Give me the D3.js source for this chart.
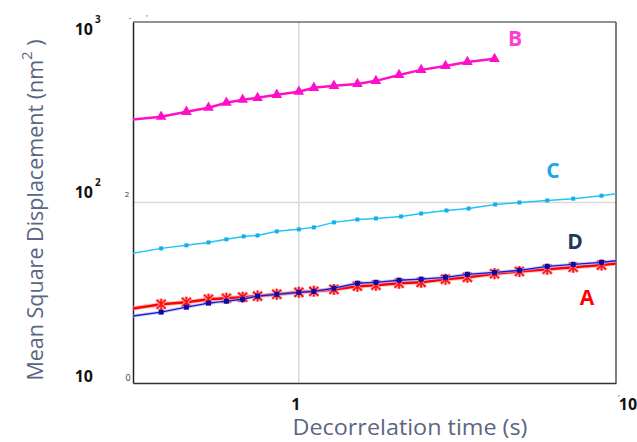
<!DOCTYPE html>
<html><head><meta charset="utf-8">
<script src="https://cdn.jsdelivr.net/npm/d3@7"></script>
<style>
html,body{margin:0;padding:0;background:#fff;}
svg{display:block;}
</style></head>
<body><svg id="chart" width="637" height="442"></svg>
<script>
// ---- data ----
const timeB = [0.30,0.368,0.442,0.519,0.591,0.665,0.741,0.852,1.0,1.115,1.29,1.53,1.75,2.07,2.43,2.90,3.40,4.14];
const valB  = [288,299,318,335,357,371,380,395,411,432,443,454,472,509,543,571,601,625];

const timeC = [0.30,0.368,0.442,0.519,0.591,0.670,0.741,0.852,1.0,1.115,1.29,1.53,1.75,2.1,2.43,2.92,3.43,4.16,4.96,6.07,7.33,9.0,10.9];
const valC  = [52.3,55.7,57.9,60.1,62.5,64.9,65.7,69.2,71.0,72.8,77.6,80.5,81.6,83.7,86.9,90.3,92.6,97.5,100,102.6,105,109,114];

const timeD = [0.30,0.368,0.442,0.519,0.591,0.665,0.741,0.852,1.0,1.115,1.29,1.53,1.75,2.07,2.43,2.90,3.40,4.14,4.96,6.07,7.33,9.0,10.9];
const valD  = [23.5,24.7,26.3,27.7,28.4,29.1,30.3,31.0,31.8,32.2,33.5,35.7,36.1,37.1,37.6,38.5,40.0,41.0,42.1,44.3,45.4,46.6,48.4];

const timeA = [0.30,0.368,0.442,0.519,0.591,0.665,0.741,0.852,1.0,1.115,1.29,1.53,1.75,2.07,2.43,2.90,3.40,4.14,4.96,6.07,7.33,9.0,10.9];
const valA  = [25.9,27.3,28.0,29.1,29.5,29.9,30.3,31.0,31.8,32.2,33.0,34.4,34.8,35.7,36.1,37.6,38.5,40.3,41.5,42.7,43.8,45.0,46.6];

const seriesNames = ["A","B","C","D"];
const yTicks = [10,100,1000];
const yTickLabels = [["10",""],["10","2"],["10","3"]];
const xTicks = [1,10];
const xTickLabels = ["1","10"];

// ---- layout ----
const svg = d3.select("#chart");
const x = d3.scaleLog().domain([0.3,10]).range([133,616]);
const y = d3.scaleLog().domain([10,1000]).range([383,22]);

svg.append("defs").append("clipPath").attr("id","clip")
  .append("rect").attr("x",133).attr("y",22).attr("width",483).attr("height",361);

// grid
svg.append("line").attr("x1",x(1)).attr("x2",x(1)).attr("y1",y(1000)).attr("y2",y(10))
  .attr("stroke","#d9d9d9").attr("stroke-width",1.5);
svg.append("line").attr("x1",x(0.3)).attr("x2",x(10)).attr("y1",y(100)).attr("y2",y(100))
  .attr("stroke","#d9d9d9").attr("stroke-width",1.5);

// frame
svg.append("line").attr("x1",133).attr("x2",616).attr("y1",22).attr("y2",22).attr("stroke","#6e6e6e").attr("stroke-width",1.5);
svg.append("line").attr("x1",616).attr("x2",616).attr("y1",22).attr("y2",383).attr("stroke","#3a3a3a").attr("stroke-width",1.3);

// axes
const yAxis = d3.axisLeft(y).tickValues(yTicks).tickSize(0).tickFormat("");
const gy = svg.append("g").attr("transform","translate(133,0)").call(yAxis);
gy.select(".domain").attr("stroke","#222").attr("stroke-width",1.5);
const xAxis = d3.axisBottom(x).tickValues(xTicks).tickSize(0).tickFormat("");
const gx = svg.append("g").attr("transform","translate(0,383)").call(xAxis);
gx.select(".domain").attr("stroke","#333").attr("stroke-width",1.5);

const tickFont = "'Open Sans', 'Liberation Sans', sans-serif";
const yOff = [-5,-9,9];
yTicks.forEach((v,i)=>{
  svg.append("text").attr("x",93).attr("y",y(v)+yOff[i]).attr("text-anchor","end")
    .attr("dominant-baseline","middle")
    .attr("font-family",tickFont).attr("font-weight","bold").attr("font-size",16).attr("fill","#111")
    .text(yTickLabels[i][0]);
  if (yTickLabels[i][1]) {
    svg.append("text").attr("x",95).attr("y",y(v)+yOff[i]-8)
      .attr("font-family",tickFont).attr("font-weight","bold").attr("font-size",10).attr("fill","#111")
      .text(yTickLabels[i][1]);
  }
});
// small stray labels
svg.append("text").attr("x",127).attr("y",y(100)-6).attr("font-family",tickFont).attr("font-size",8).attr("fill","#333").attr("text-anchor","middle").text("2");
svg.append("text").attr("x",128).attr("y",y(10)-2).attr("font-family",tickFont).attr("font-size",9).attr("fill","#333").attr("text-anchor","middle").text("0");
svg.append("text").attr("x",130).attr("y",20).attr("font-family",tickFont).attr("font-size",8).attr("fill","#333").attr("text-anchor","middle").text("-");
svg.append("text").attr("x",147).attr("y",20).attr("font-family",tickFont).attr("font-size",8).attr("fill","#333").attr("text-anchor","middle").text("'");

const xOff = [-3,12];
xTicks.forEach((v,i)=>{
  svg.append("text").attr("x",x(v)+xOff[i]).attr("y",410).attr("text-anchor","middle")
    .attr("font-family",tickFont).attr("font-weight","bold").attr("font-size",16).attr("fill","#111")
    .text(xTickLabels[i]);
});
svg.append("text").attr("x",619).attr("y",400).attr("font-family",tickFont).attr("font-size",8).attr("fill","#333").attr("text-anchor","middle").text("'");

// axis titles
const titleFont = "'Open Sans', 'Noto Sans', sans-serif";
svg.append("text").attr("x",410).attr("y",435).attr("text-anchor","middle")
  .attr("font-family",titleFont).attr("font-size",21).attr("fill","#5b6682")
  .attr("textLength",235).attr("lengthAdjust","spacingAndGlyphs")
  .text("Decorrelation time (s)");
const yt = svg.append("text").attr("transform","translate(43,210) rotate(-90)").attr("text-anchor","middle")
  .attr("font-family",titleFont).attr("font-size",21.5).attr("fill","#5b6682");
yt.append("tspan").text("Mean Square Displacement (nm");
yt.append("tspan").attr("dy",-11).attr("font-size",15).text("2");
yt.append("tspan").attr("dy",11).text(" )");

// ---- series ----
const plot = svg.append("g").attr("clip-path","url(#clip)");
const line = d3.line().x(d=>x(d[0])).y(d=>y(d[1]));
function pts(t,v){ return t.map((d,i)=>[d,v[i]]); }

function drawSeries(data, opts){
  if (opts.halo) plot.append("path").datum(data).attr("d",line).attr("fill","none")
      .attr("stroke",opts.halo).attr("stroke-width",opts.width+2).attr("stroke-opacity",0.6);
  plot.append("path").datum(data).attr("d",line).attr("fill","none")
    .attr("stroke",opts.color).attr("stroke-width",opts.width);
  const mk = data.filter(d=>d[0]>0.32 && d[0]<10);
  const g = plot.append("g");
  mk.forEach(d=>{
    const cx = x(d[0]), cy = y(d[1]);
    if (opts.marker==="tri"){
      g.append("path").attr("d",d3.symbol(d3.symbolTriangle,50)()).attr("transform",`translate(${cx},${cy})`).attr("fill",opts.mcolor);
    } else if (opts.marker==="sq"){
      g.append("rect").attr("x",cx-opts.ms/2).attr("y",cy-opts.ms/2).attr("width",opts.ms).attr("height",opts.ms).attr("fill",opts.mcolor);
    } else if (opts.marker==="star"){
      const s=4.5;
      const p = `M${cx-s},${cy-s}L${cx+s},${cy+s}M${cx-s},${cy+s}L${cx+s},${cy-s}M${cx},${cy-s-1}L${cx},${cy+s+1}`;
      g.append("path").attr("d",p).attr("stroke","#ff9a9a").attr("stroke-width",3.4).attr("fill","none");
      g.append("path").attr("d",p).attr("stroke",opts.mcolor).attr("stroke-width",1.6).attr("fill","none");
    }
  });
}

drawSeries(pts(timeB,valB),{color:"#ff10c8",width:2.5,marker:"tri",mcolor:"#ff10c8"});
drawSeries(pts(timeC,valC),{color:"#22c4f4",width:1.5,marker:"sq",ms:4,mcolor:"#16aee8"});
drawSeries(pts(timeA,valA),{color:"#ff0000",width:2.5,halo:"#ffa0a0",marker:"star",mcolor:"#ff1010"});
drawSeries(pts(timeD,valD),{color:"#1a1ad0",width:1.3,halo:"#b0b0f0",marker:"sq",ms:5,mcolor:"#0a0aa8"});

// series labels
const lblFont = "'Open Sans', 'Liberation Sans', sans-serif";
const labels = [
  {name:"B", x:515, y:46, c:"#ff3cd2"},
  {name:"C", x:553, y:178, c:"#1ea6e6"},
  {name:"D", x:575, y:249, c:"#1f3a60"},
  {name:"A", x:587, y:305, c:"#ff0000"}
];
labels.forEach(l=>{
  svg.append("text").attr("x",l.x).attr("y",l.y).attr("text-anchor","middle")
    .attr("font-family",lblFont).attr("font-weight","bold").attr("font-size",21).attr("fill",l.c).text(l.name);
});
</script>
</body></html>
